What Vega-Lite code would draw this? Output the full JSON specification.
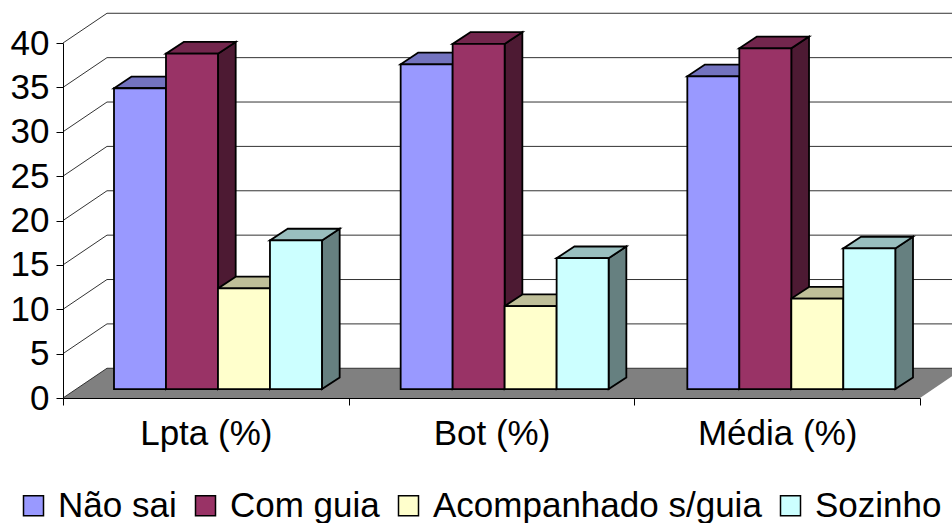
{
"$schema":"https://vega.github.io/schema/vega-lite/v6.json",
"width":857,"height":355,
"autosize":"none",
"padding":{"left":63,"top":43,"right":32,"bottom":125},
"background":"white",
"config":{"view":{"stroke":null},"font":"Liberation Sans"},
"data":{"values":[
{"cat":"Lpta (%)","series":"Não sai","value":33.9},
{"cat":"Lpta (%)","series":"Com guia","value":37.8},
{"cat":"Lpta (%)","series":"Acompanhado s/guia","value":11.35},
{"cat":"Lpta (%)","series":"Sozinho","value":16.75},
{"cat":"Bot (%)","series":"Não sai","value":36.6},
{"cat":"Bot (%)","series":"Com guia","value":38.9},
{"cat":"Bot (%)","series":"Acompanhado s/guia","value":9.35},
{"cat":"Bot (%)","series":"Sozinho","value":14.75},
{"cat":"Média (%)","series":"Não sai","value":35.25},
{"cat":"Média (%)","series":"Com guia","value":38.4},
{"cat":"Média (%)","series":"Acompanhado s/guia","value":10.2},
{"cat":"Média (%)","series":"Sozinho","value":15.85}
]},
"transform":[
{"calculate":"indexof(['Lpta (%)','Bot (%)','Média (%)'],datum.cat)","as":"i"},
{"calculate":"indexof(['Não sai','Com guia','Acompanhado s/guia','Sozinho'],datum.series)","as":"s"},
{"calculate":"datum.i*1.0035+0.1785+datum.s*0.182","as":"xl"},
{"calculate":"datum.xl+0.182","as":"xr"}
],
"resolve":{"scale":{"x":"independent","color":"independent"},"axis":{"x":"independent"}},
"layer":[
{"data":{"values":[{"a":0},{"a":1}]},
 "transform":[{"calculate":"datum.a*0.154","as":"x1"},{"calculate":"3+datum.a*0.154","as":"x2"},{"calculate":"datum.a*3.35","as":"fy"}],
 "mark":{"type":"area","orient":"horizontal","fill":"#808080","clip":false},
 "encoding":{
  "x":{"field":"x1","type":"quantitative","stack":null,"scale":{"domain":[0,3],"nice":false,"zero":false},"axis":null},
  "x2":{"field":"x2"},
  "y":{"field":"fy","type":"quantitative","scale":{"domain":[0,40],"nice":false},"axis":{"title":null,"values":[0,5,10,15,20,25,30,35,40],"grid":false,"domainColor":"#000","domainWidth":1,"tickColor":"#000","tickSize":7,"labelFontSize":35,"labelColor":"#000","labelPadding":7,"labelFont":"Liberation Sans","zindex":1}}
 }},
{"data":{"values":[{"tick":0},{"tick":5},{"tick":10},{"tick":15},{"tick":20},{"tick":25},{"tick":30},{"tick":35},{"tick":40}]},
 "transform":[{"calculate":"[0,1,2]","as":"d"},{"flatten":["d"]},
  {"calculate":"datum.d==0?0:(datum.d==1?0.154:3.154)","as":"gx"},
  {"calculate":"datum.d==0?datum.tick:datum.tick+3.35","as":"gy"}],
 "mark":{"type":"line","stroke":"#333333","strokeWidth":1},
 "encoding":{
  "x":{"field":"gx","type":"quantitative","scale":{"domain":[0,3],"nice":false,"zero":false},"axis":null},
  "y":{"field":"gy","type":"quantitative"},
  "detail":{"field":"tick"}
 }},
{"transform":[{"calculate":"[0,1]","as":"d"},{"flatten":["d"]},
  {"calculate":"datum.xr+datum.d*0.062","as":"sx"},
  {"calculate":"datum.value+1.0+datum.d*1.32","as":"sy"},
  {"calculate":"1.0+datum.d*1.32","as":"sy2"}],
 "mark":{"type":"area","stroke":"#000","strokeWidth":1.8,"strokeJoin":"miter"},
 "encoding":{
  "x":{"field":"sx","type":"quantitative","scale":{"domain":[0,3],"nice":false,"zero":false},"axis":null},
  "y":{"field":"sy","type":"quantitative","stack":null},
  "y2":{"field":"sy2"},
  "detail":{"field":"cat"},
  "color":{"field":"series","type":"nominal","legend":null,"scale":{"domain":["Não sai","Com guia","Acompanhado s/guia","Sozinho"],"range":["#4D4D80","#4D1A33","#808066","#668080"]}}
 }},
{"transform":[{"calculate":"[0,1]","as":"d"},{"flatten":["d"]},
  {"calculate":"datum.xl+datum.d*0.062","as":"tx"},
  {"calculate":"datum.xr+datum.d*0.062","as":"tx2"},
  {"calculate":"datum.value+1.0+datum.d*1.32","as":"ty"}],
 "mark":{"type":"area","orient":"horizontal","stroke":"#000","strokeWidth":1.8,"strokeJoin":"miter"},
 "encoding":{
  "x":{"field":"tx","type":"quantitative","stack":null,"scale":{"domain":[0,3],"nice":false,"zero":false},"axis":null},
  "x2":{"field":"tx2"},
  "y":{"field":"ty","type":"quantitative"},
  "detail":{"field":"cat"},
  "color":{"field":"series","type":"nominal","legend":null,"scale":{"domain":["Não sai","Com guia","Acompanhado s/guia","Sozinho"],"range":["#7373BF","#73264D","#BFBF99","#99BFBF"]}}
 }},
{"transform":[{"calculate":"datum.value+1.0","as":"fy"},{"calculate":"1.0","as":"fy2"}],
 "mark":{"type":"rect","stroke":"#000","strokeWidth":1.8},
 "encoding":{
  "x":{"field":"xl","type":"quantitative","scale":{"domain":[0,3],"nice":false,"zero":false},"axis":null},
  "x2":{"field":"xr"},
  "y":{"field":"fy","type":"quantitative"},
  "y2":{"field":"fy2"},
  "color":{"field":"series","type":"nominal","scale":{"domain":["Não sai","Com guia","Acompanhado s/guia","Sozinho"],"range":["#9999FF","#993366","#FFFFCC","#CCFFFF"]},
   "legend":{"title":null,"orient":"none","legendX":-47,"legendY":445,"direction":"horizontal","columns":4,"columnPadding":11,"symbolType":"square","symbolSize":400,"symbolStrokeColor":"#000","symbolStrokeWidth":1.5,"labelFontSize":35,"labelColor":"#000","labelFont":"Liberation Sans","labelOffset":7,"symbolOpacity":1,"labelLimit":500}}
 }},
{"mark":{"type":"point","opacity":0},
 "encoding":{
  "x":{"field":"cat","type":"nominal","sort":["Lpta (%)","Bot (%)","Média (%)"],"scale":{"paddingInner":0,"paddingOuter":0},
   "axis":{"title":null,"labelAngle":0,"tickBand":"extent","domainColor":"#000","domainWidth":1,"tickColor":"#000","tickSize":7,"labelFontSize":35,"labelColor":"#000","labelPadding":11,"labelFont":"Liberation Sans","zindex":1}}
 }}
]
}
